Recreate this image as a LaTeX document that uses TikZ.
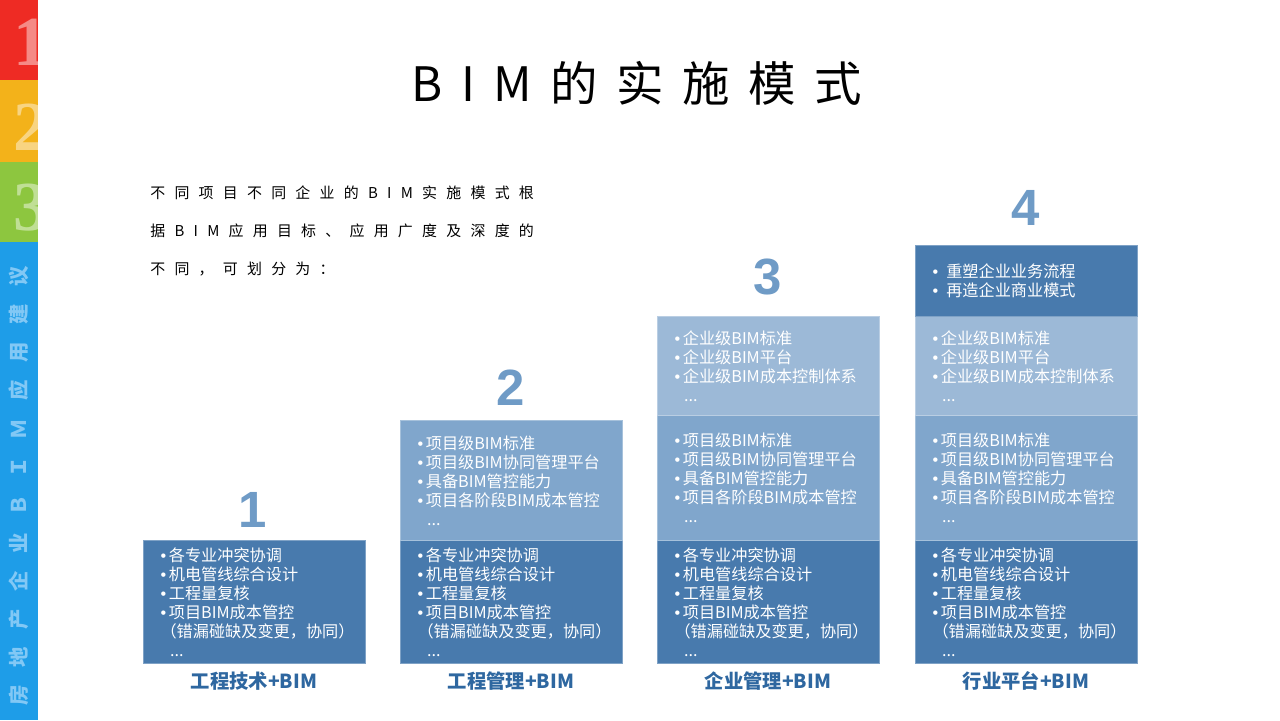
\documentclass[tikz,border=0pt]{standalone}
\usepackage{fontspec}
\setmainfont{Noto Sans CJK SC}
\newfontfamily\cjkwide{Noto Sans CJK SC}[LetterSpace=62]
\newfontfamily\titlefont{Noto Sans CJK SC}[LetterSpace=39]
\newfontfamily\sidefont{Noto Sans CJK SC}[LetterSpace=87]
\newfontfamily\numfont{Liberation Sans}
\newfontfamily\barfont{Liberation Serif}
\usepackage{xcolor}
\definecolor{BarRed}    {RGB}{238, 43, 36}
\definecolor{BarOrange} {RGB}{243,178, 26}
\definecolor{BarGreen}  {RGB}{141,198, 63}
\definecolor{BarBlue}   {RGB}{ 30,157,232}
\definecolor{SideText}  {RGB}{130,200,245}
\definecolor{StepDark}  {RGB}{ 72,122,173}
\definecolor{StepMid}   {RGB}{128,166,204}
\definecolor{StepLight} {RGB}{156,185,215}
\definecolor{StepNum}   {RGB}{111,155,198}
\definecolor{StepLabel} {RGB}{ 46,103,160}
\usetikzlibrary{positioning}

\begin{document}
\begin{tikzpicture}[
  x=0.02cm, y=-0.02cm,
  layer/.style={
    anchor=north west, fill=#1, draw=white!30!#1,
    line width=0.6pt, inner xsep=0.34cm, inner ysep=0pt,
    minimum width=4.44cm, text width=3.76cm,
    align=left, text=white,
    font=\fontsize{9.2pt}{10.8pt}\selectfont
  },
  stepnum/.style={
    text=StepNum, inner sep=0pt,
    font=\numfont\bfseries\fontsize{29pt}{30pt}\selectfont
  },
  steplabel/.style={
    text=StepLabel, inner sep=0pt,
    font=\bfseries\fontsize{11pt}{12pt}\selectfont
  },
  bardigit/.style={
    text=white, opacity=0.45, inner sep=0pt,
    font=\barfont\bfseries\fontsize{40pt}{40pt}\selectfont
  }
]
\useasboundingbox (0,0) rectangle (1280,720);

% side bar
\fill[BarRed]    (0,0)   rectangle (38,80);
\fill[BarOrange] (0,80)  rectangle (38,162);
\fill[BarGreen]  (0,162) rectangle (38,242);
\fill[BarBlue]   (0,242) rectangle (38,720);
\begin{scope}
  \clip (0,0) rectangle (38,242);
  \node[bardigit] (d1) at (31,42)  {1};
  \node[bardigit] (d2) at (31,127) {2};
  \node[bardigit] (d3) at (31,208) {3};
\end{scope}
\node[rotate=90, text=SideText, inner sep=0pt,
  font=\sidefont\bfseries\fontsize{11.6pt}{12pt}\selectfont]
  (side) at (19,486) {房地产企业ＢＩＭ应用建议};

% title and intro
\node[inner sep=0pt, font=\titlefont\fontsize{27pt}{30pt}\selectfont]
  (title) at (637,83) {BIM的实施模式};
\node[anchor=north west, inner sep=0pt, align=left,
  font=\cjkwide\fontsize{8.5pt}{21.8pt}\selectfont]
  (intro) at (150,185)
  {不同项目不同企业的BIM实施模式根\\
   据BIM应用目标、应用广度及深度的\\
   不同，可划分为：};

% bottom layer: engineering technology
\foreach \x in {143,400,657,915}{
  \node[layer=StepDark, minimum height=2.46cm] (tech\x) at (\x,540)
    {{\numfont •}\,各专业冲突协调\\
     {\numfont •}\,机电管线综合设计\\
     {\numfont •}\,工程量复核\\
     {\numfont •}\,项目BIM成本管控\\
     （错漏碰缺及变更，协同）\\
     \hspace{0.6em}...};
}

% second layer: project management
\foreach \x/\y/\h in {400/420/2.4,657/415/2.5,915/415/2.5}{
  \node[layer=StepMid, minimum height=\h cm] (proj\x) at (\x,\y)
    {{\numfont •}\,项目级BIM标准\\
     {\numfont •}\,项目级BIM协同管理平台\\
     {\numfont •}\,具备BIM管控能力\\
     {\numfont •}\,项目各阶段BIM成本管控\\
     \hspace{0.6em}...};
}

% third layer: enterprise
\foreach \x in {657,915}{
  \node[layer=StepLight, minimum height=1.98cm] (corp\x) at (\x,316)
    {{\numfont •}\,企业级BIM标准\\
     {\numfont •}\,企业级BIM平台\\
     {\numfont •}\,企业级BIM成本控制体系\\
     \hspace{0.6em}...};
}

% top layer: industry
\node[layer=StepDark, minimum height=1.42cm] (ind) at (915,245)
  {{\numfont •}\ \,重塑企业业务流程\\
   {\numfont •}\ \,再造企业商业模式};

% step numbers and labels
\node[stepnum] (n1) at (253,510)  {1};
\node[stepnum] (n2) at (511,388)  {2};
\node[stepnum] (n3) at (768,277)  {3};
\node[stepnum] (n4) at (1026,208) {4};

\node[steplabel] (lab1) at (254,681)  {工程技术+BIM};
\node[steplabel] (lab2) at (511,681)  {工程管理+BIM};
\node[steplabel] (lab3) at (768,681)  {企业管理+BIM};
\node[steplabel] (lab4) at (1026,681) {行业平台+BIM};
\end{tikzpicture}
\end{document}
